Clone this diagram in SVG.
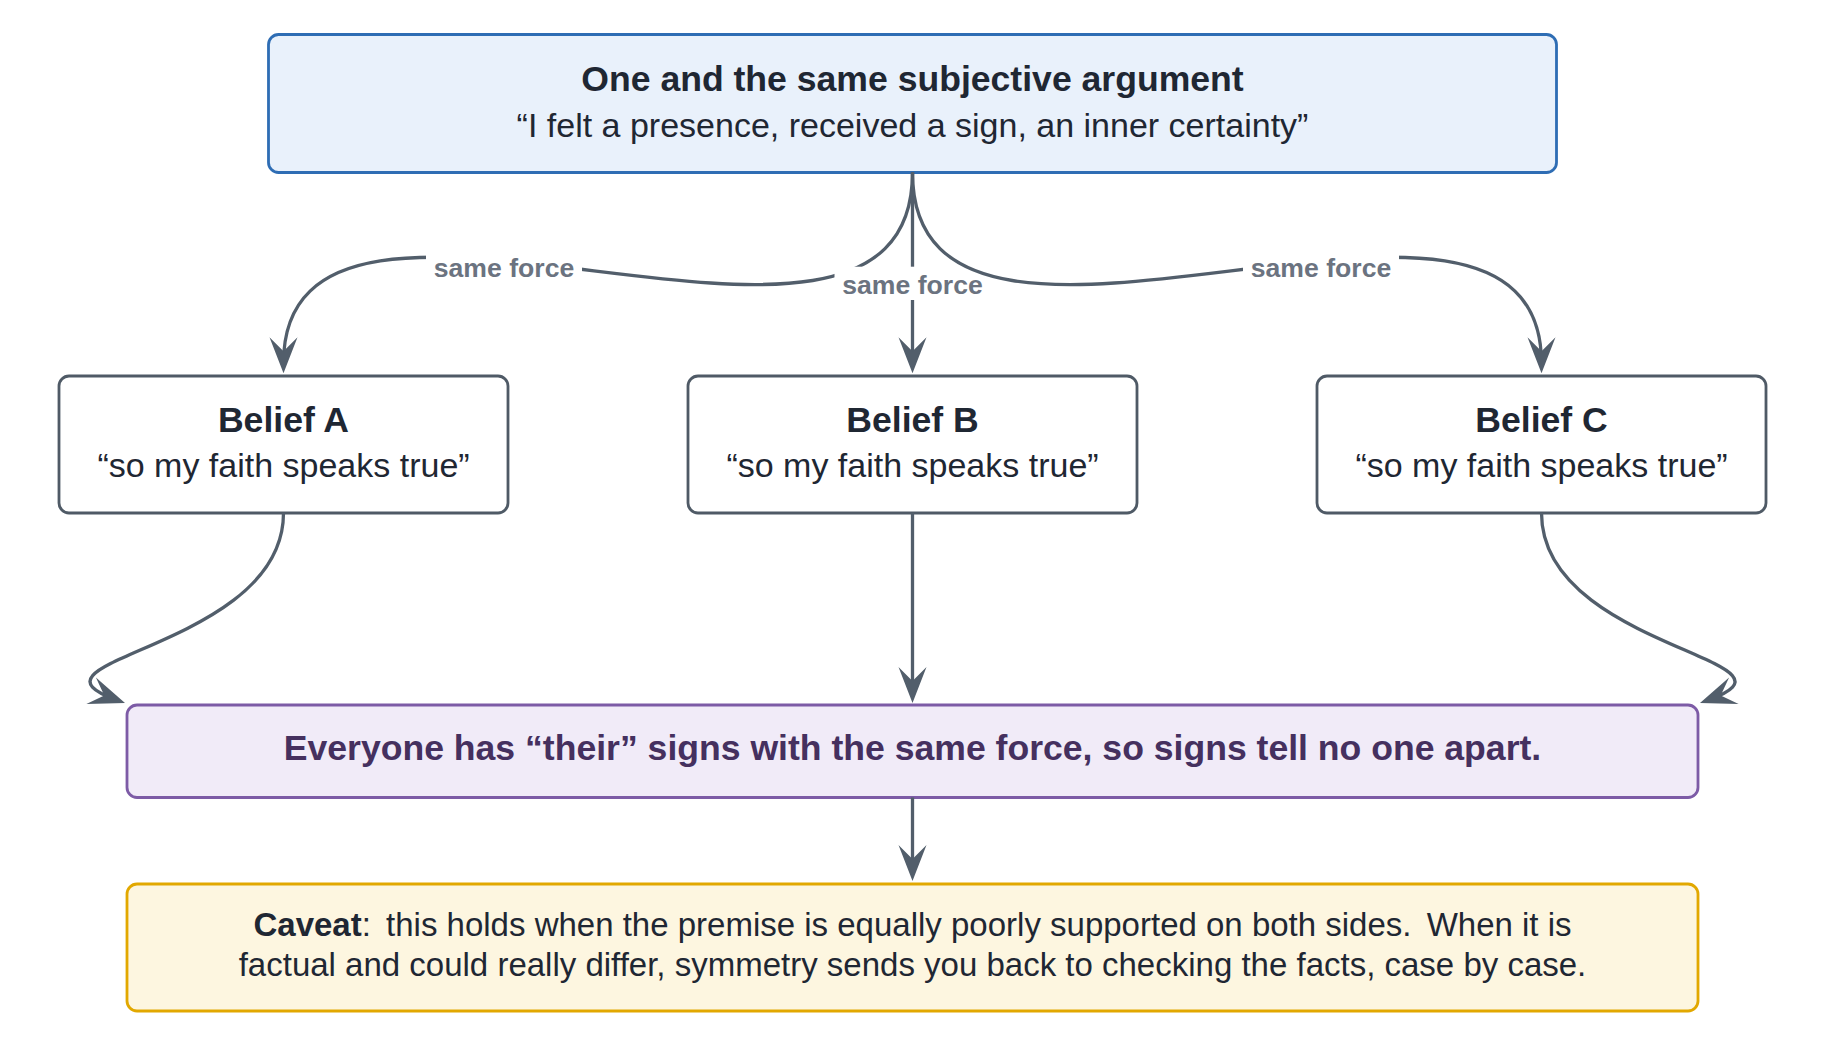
<svg xmlns="http://www.w3.org/2000/svg" width="1825" height="1047" viewBox="0 0 1825 1047">
<style>
.box{stroke-width:2.8}
.top{fill:#e9f1fb;stroke:#2e6db4}
.bel{fill:#ffffff;stroke:#4f5a66}
.con{fill:#f1ebf8;stroke:#7d5ba6}
.cav{fill:#fdf6e0;stroke:#e2a800}
.h{font-family:"Liberation Sans",Arial,sans-serif;font-weight:bold;font-size:35.6px;fill:#1f2733;text-anchor:middle}
.s{font-family:"Liberation Sans",Arial,sans-serif;font-size:34px;fill:#1f2733;text-anchor:middle}
.ch{fill:#45305f}
.cv{font-family:"Liberation Sans",Arial,sans-serif;font-size:33px;fill:#1f2733;text-anchor:middle}
.lbl{font-family:"Liberation Sans",Arial,sans-serif;font-weight:bold;font-size:26.6px;fill:#6b7380;text-anchor:middle}
.lb{fill:#ffffff}
.e{fill:none;stroke:#525e6b;stroke-width:3.3;marker-end:url(#ah)}
</style>
<defs>
<marker id="ah" markerUnits="userSpaceOnUse" markerWidth="50" markerHeight="40" viewBox="-30 -20 50 40" refX="0" refY="0" orient="auto">
<path d="M10,0 L-26,-14 L-12,0 L-26,14 Z" fill="#525e6b"/>
</marker>
</defs>

<g id="top">
<rect class="box top" x="268.5" y="34.5" width="1288" height="138" rx="10"/>
<text class="h" x="912.5" y="91">One and the same subjective argument</text>
<text class="s" x="912.5" y="136.5">“I felt a presence, received a sign, an inner certainty”</text>
</g>

<g id="beliefA">
<rect class="box bel" x="59" y="376" width="449" height="137" rx="10"/>
<text class="h" x="283.5" y="431.7">Belief A</text>
<text class="s" x="283.5" y="476.7">“so my faith speaks true”</text>
</g>
<g id="beliefB">
<rect class="box bel" x="688" y="376" width="449" height="137" rx="10"/>
<text class="h" x="912.5" y="431.7">Belief B</text>
<text class="s" x="912.5" y="476.7">“so my faith speaks true”</text>
</g>
<g id="beliefC">
<rect class="box bel" x="1317" y="376" width="449" height="137" rx="10"/>
<text class="h" x="1541.5" y="431.7">Belief C</text>
<text class="s" x="1541.5" y="476.7">“so my faith speaks true”</text>
</g>

<g id="conclusion">
<rect class="box con" x="127" y="705" width="1571" height="92.5" rx="10"/>
<text class="h ch" x="912.5" y="760">Everyone has “their” signs with the same force, so signs tell no one apart.</text>
</g>

<g id="caveat">
<rect class="box cav" x="127" y="884" width="1571" height="127" rx="10"/>
<text class="cv" x="912.5" y="935.7"><tspan font-weight="bold">Caveat</tspan>: <tspan dx="6">this holds when the premise is equally poorly supported on both sides.</tspan> <tspan dx="6">When it is</tspan></text>
<text class="cv" x="912.5" y="976">factual and could really differ, symmetry sends you back to checking the facts, case by case.</text>
</g>

<g id="connectors">
<path class="e" d="M912.5,172.5 C912.5,445 283.5,100 283.5,363.3"/>
<rect class="lb" x="426" y="250" width="156" height="33.3"/>
<text class="lbl" x="504" y="277.3">same force</text>

<path class="e" d="M912.5,172.5 L912.5,363.3"/>
<rect class="lb" x="834.5" y="266.7" width="156" height="33.3"/>
<text class="lbl" x="912.5" y="294">same force</text>

<path class="e" d="M912.5,172.5 C912.5,445 1541.5,100 1541.5,363.3"/>
<rect class="lb" x="1243" y="250" width="156" height="33.3"/>
<text class="lbl" x="1321" y="277.3">same force</text>

<path class="e" d="M283.5,513 C283.5,648 6,660 115.6,699.6"/>
<path class="e" d="M912.5,513 L912.5,693"/>
<path class="e" d="M1541.5,513 C1541.5,648 1819,660 1709.4,699.6"/>
<path class="e" d="M912.5,797.5 L912.5,871"/>
</g>
</svg>
